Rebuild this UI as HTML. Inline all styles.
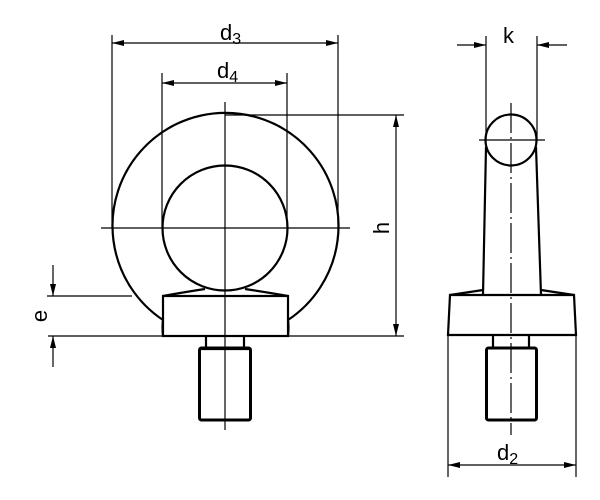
<!DOCTYPE html>
<html><head><style>html,body{margin:0;padding:0;background:#fff}svg{display:block}text{font-family:"Liberation Sans",Arial,sans-serif}</style></head>
<body>
<svg width="600" height="500" viewBox="0 0 600 500" xmlns="http://www.w3.org/2000/svg">
<defs>
<marker id="a" viewBox="0 0 12 6" refX="12" refY="3" markerWidth="12" markerHeight="6" orient="auto-start-reverse" markerUnits="userSpaceOnUse"><path d="M0,0 L12,3 L0,6 Z" fill="#000"/></marker>
</defs>
<g stroke="#000" fill="none">
<g stroke-width="1.2">
<line x1="112" y1="35" x2="112" y2="228"/>
<line x1="338" y1="35" x2="338" y2="228"/>
<line x1="162" y1="73" x2="162" y2="228"/>
<line x1="287" y1="73" x2="287" y2="228"/>
<line x1="112" y1="43" x2="338" y2="43" marker-start="url(#a)" marker-end="url(#a)"/>
<line x1="162" y1="83" x2="287" y2="83" marker-start="url(#a)" marker-end="url(#a)"/>
<line x1="225" y1="115" x2="404" y2="115"/>
<line x1="48" y1="336" x2="404" y2="336"/>
<line x1="396" y1="115" x2="396" y2="336" marker-start="url(#a)" marker-end="url(#a)"/>
<line x1="47" y1="296" x2="132" y2="296"/>
<line x1="53" y1="265" x2="53" y2="296" marker-end="url(#a)"/>
<line x1="53" y1="367" x2="53" y2="336" marker-end="url(#a)"/>
<line x1="101" y1="228" x2="350" y2="228"/>
<line x1="225" y1="102" x2="225" y2="430"/>
<line x1="486" y1="36" x2="486" y2="140"/>
<line x1="537" y1="36" x2="537" y2="140"/>
<line x1="457" y1="45" x2="486" y2="45" marker-end="url(#a)"/>
<line x1="567" y1="45" x2="537" y2="45" marker-end="url(#a)"/>
<line x1="448" y1="336" x2="448" y2="477"/>
<line x1="576" y1="336" x2="576" y2="477"/>
<line x1="448" y1="465" x2="576" y2="465" marker-start="url(#a)" marker-end="url(#a)"/>
<line x1="479" y1="140" x2="545" y2="140"/>
<line x1="511" y1="103" x2="511" y2="435" stroke-dasharray="30,4,2,4"/>
</g>
<g stroke-width="2.2">
<path d="M163,320 A113,113 0 1 1 288,320"/>
<path d="M163,320 Q162,326 163,336 M288,320 Q289,326 288,336"/>
<circle cx="225" cy="228" r="62.5"/>
<rect x="163" y="296" width="125" height="40"/>
<path d="M163,296 Q185,292 205,289 M288,296 Q265,292 245,289"/>
<path d="M206,336 V348 M244,336 V348"/>
<rect x="199.5" y="348" width="51" height="72" rx="2" stroke-width="3"/>
<line x1="199" y1="349" x2="251" y2="349"/>
<circle cx="511" cy="140" r="25.5"/>
<path d="M486,147 L483,295 M536,147 L541,295"/>
<path d="M450,295 L574,295 L576,335 L448,335 Z"/>
<path d="M450,295 L483,290 M574,295 L541,290"/>
<path d="M493,335 V348 M529,335 V348"/>
<rect x="486.5" y="348" width="50" height="72" rx="2" stroke-width="3"/>
</g>
</g>
<g font-size="22" fill="#000">
<text x="220" y="40">d<tspan font-size="16" dy="4">3</tspan></text>
<text x="217" y="78">d<tspan font-size="16" dy="4">4</tspan></text>
<text x="503" y="43">k</text>
<text x="497" y="460">d<tspan font-size="16" dy="4">2</tspan></text>
<text transform="translate(389,228) rotate(-90)" text-anchor="middle">h</text>
<text transform="translate(47,316) rotate(-90)" text-anchor="middle">e</text>
</g>
</svg>
</body></html>
